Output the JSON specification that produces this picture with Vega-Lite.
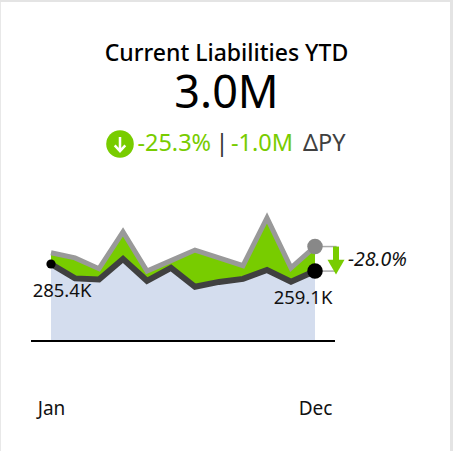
{"$schema":"https://vega.github.io/schema/vega-lite/v6.json","width":453,"height":451,"padding":0,"autosize":"none","background":"white",
"config":{"font":"Noto Sans","view":{"stroke":"transparent"}},
"title":{"text":"Current Liabilities YTD","subtitle":"3.0M","anchor":"middle","orient":"top","offset":-118,"fontSize":23,"fontWeight":500,"color":"#000000","subtitleFontSize":45,"subtitleFontWeight":400,"subtitleColor":"#000000","subtitlePadding":6,"font":"Noto Sans","subtitleFont":"Noto Sans"},
"datasets":{"series":[
{"i":0,"month":"Jan","cy":285.4,"py":327},{"i":1,"month":"Feb","cy":232,"py":308},{"i":2,"month":"Mar","cy":228,"py":268},{"i":3,"month":"Apr","cy":304,"py":404},{"i":4,"month":"May","cy":223,"py":259},{"i":5,"month":"Jun","cy":271,"py":298},{"i":6,"month":"Jul","cy":201,"py":337},{"i":7,"month":"Aug","cy":219,"py":308},{"i":8,"month":"Sep","cy":230,"py":279},{"i":9,"month":"Oct","cy":263,"py":456},{"i":10,"month":"Nov","cy":220,"py":271},{"i":11,"month":"Dec","cy":259.1,"py":350}]},
"data":{"name":"series"},
"encoding":{"x":{"field":"i","type":"quantitative","scale":{"domain":[-2.125,16.75],"nice":false,"zero":false},
"axis":{"title":null,"grid":false,"domain":false,"ticks":false,"values":[0,11],"offset":-43,"labelFontSize":19,"labelColor":"#111111","labelPadding":0,"labelBaseline":"middle","labelExpr":"datum.value==0?'Jan':'Dec'"}}},
"layer":[
{"mark":{"type":"area","color":"#d4ddee","opacity":1},"encoding":{"y":{"field":"cy","type":"quantitative","scale":{"domain":[-407.7,1263.8],"nice":false,"zero":false},"axis":null}}},
{"mark":{"type":"area","color":"#78cc00"},"encoding":{"y":{"field":"py","type":"quantitative"},"y2":{"field":"cy"}}},
{"mark":{"type":"line","color":"#999999","strokeWidth":5,"strokeJoin":"miter"},"encoding":{"y":{"field":"py","type":"quantitative"}}},
{"mark":{"type":"line","color":"#404040","strokeWidth":6,"strokeJoin":"miter"},"encoding":{"y":{"field":"cy","type":"quantitative"}}},
{"transform":[{"filter":"datum.i==0"}],"mark":{"type":"rule","color":"#000000","strokeWidth":2},"encoding":{"x":{"datum":-0.833},"x2":{"datum":11.833},"y":{"datum":0}}},
{"transform":[{"filter":"datum.i==11"}],"mark":{"type":"rule","color":"#aaaaaa","strokeWidth":1.5},"encoding":{"x2":{"datum":11.9},"y":{"field":"py","type":"quantitative"}}},
{"transform":[{"filter":"datum.i==11"}],"mark":{"type":"rule","color":"#aaaaaa","strokeWidth":1.5},"encoding":{"x2":{"datum":11.9},"y":{"field":"cy","type":"quantitative"}}},
{"transform":[{"filter":"datum.i==11"}],"mark":{"type":"rule","color":"#78cc00","strokeWidth":6,"xOffset":21},"encoding":{"y":{"field":"py","type":"quantitative"},"y2":{"datum":280}}},
{"transform":[{"filter":"datum.i==11"}],"mark":{"type":"point","shape":"triangle-down","filled":true,"color":"#78cc00","size":289,"opacity":1,"xOffset":21,"yOffset":-4},"encoding":{"y":{"field":"cy","type":"quantitative"}}},
{"transform":[{"filter":"datum.i==11"}],"mark":{"type":"circle","color":"#888888","size":240,"opacity":1},"encoding":{"y":{"field":"py","type":"quantitative"}}},
{"transform":[{"filter":"datum.i==11"}],"mark":{"type":"circle","color":"#000000","size":240,"opacity":1},"encoding":{"y":{"field":"cy","type":"quantitative"}}},
{"transform":[{"filter":"datum.i==0"}],"mark":{"type":"circle","color":"#000000","size":85,"opacity":1},"encoding":{"y":{"field":"cy","type":"quantitative"}}},
{"transform":[{"filter":"datum.i==0"}],"mark":{"type":"text","fontSize":18.5,"color":"#111111","dx":11,"dy":27},"encoding":{"y":{"field":"cy","type":"quantitative"},"text":{"value":"285.4K"}}},
{"transform":[{"filter":"datum.i==11"}],"mark":{"type":"text","fontSize":18.5,"color":"#111111","dx":-12,"dy":27},"encoding":{"y":{"field":"cy","type":"quantitative"},"text":{"value":"259.1K"}}},
{"transform":[{"filter":"datum.i==11"}],"mark":{"type":"text","fontSize":19.5,"fontStyle":"italic","color":"#111111","align":"left","dx":33,"dy":1},"encoding":{"y":{"datum":305},"text":{"value":"-28.0%"}}},
{"transform":[{"filter":"datum.i==0"}],"mark":{"type":"circle","color":"#78cc00","size":760,"opacity":1},"encoding":{"x":{"datum":2.875},"y":{"datum":730}}},
{"transform":[{"filter":"datum.i==0"}],"mark":{"type":"point","shape":"M0,-1L0,1M-0.75,0.2L0,1L0.75,0.2","filled":false,"color":"#ffffff","strokeWidth":2.5,"size":200,"opacity":1},"encoding":{"x":{"datum":2.875},"y":{"datum":730}}},
{"transform":[{"filter":"datum.i==0"}],"mark":{"type":"text","fontSize":23.5,"color":"#78cc00","align":"left"},"encoding":{"x":{"datum":3.6},"y":{"datum":730},"text":{"value":"-25.3%"}}},
{"transform":[{"filter":"datum.i==0"}],"mark":{"type":"text","fontSize":23.5,"color":"#333333","align":"center"},"encoding":{"x":{"datum":7.125},"y":{"datum":730},"text":{"value":"|"}}},
{"transform":[{"filter":"datum.i==0"}],"mark":{"type":"text","fontSize":23.5,"color":"#78cc00","align":"left"},"encoding":{"x":{"datum":7.5},"y":{"datum":730},"text":{"value":"-1.0M"}}},
{"transform":[{"filter":"datum.i==0"}],"mark":{"type":"text","fontSize":23.5,"color":"#404040","align":"left"},"encoding":{"x":{"datum":10.5},"y":{"datum":730},"text":{"value":"ΔPY"}}},
{"transform":[{"filter":"datum.i==0"}],"mark":{"type":"rule","color":"#e4e4e4","strokeWidth":3},"encoding":{"x":{"datum":16.6875},"y":{"datum":-407.7},"y2":{"datum":1263.8}}},
{"transform":[{"filter":"datum.i==0"}],"mark":{"type":"rule","color":"#e8e8e8","strokeWidth":2},"encoding":{"x":{"datum":-2.125},"y":{"datum":-407.7},"y2":{"datum":1263.8}}},
{"transform":[{"filter":"datum.i==0"}],"mark":{"type":"rule","color":"#e4e4e4","strokeWidth":2},"encoding":{"x":{"datum":-2.125},"x2":{"datum":16.75},"y":{"datum":1260}}}
]}
